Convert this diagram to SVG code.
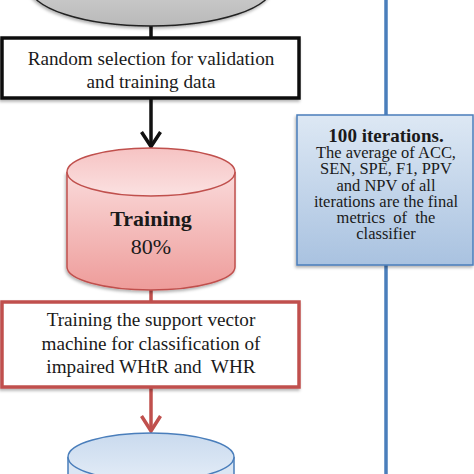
<svg xmlns="http://www.w3.org/2000/svg" width="474" height="474" viewBox="0 0 474 474">
<defs>
<linearGradient id="gGray" x1="0" y1="0" x2="0" y2="1"><stop offset="0" stop-color="#e2e2e2"/><stop offset="1" stop-color="#b9b9b9"/></linearGradient>
<linearGradient id="gRed" x1="0" y1="0" x2="0" y2="1"><stop offset="0" stop-color="#fadada"/><stop offset="1" stop-color="#ee9c9a"/></linearGradient>
<linearGradient id="gRedTop" x1="0" y1="0" x2="0" y2="1"><stop offset="0" stop-color="#f6c3c3"/><stop offset="1" stop-color="#fbe1e1"/></linearGradient>
<linearGradient id="gBlue" x1="0" y1="0" x2="0" y2="1"><stop offset="0" stop-color="#dde8f4"/><stop offset="1" stop-color="#a9c2e0"/></linearGradient>
<linearGradient id="gBlueCyl" x1="0" y1="0" x2="0" y2="1"><stop offset="0" stop-color="#c9daee"/><stop offset="1" stop-color="#e3ecf7"/></linearGradient>
<filter id="sh" x="-10%" y="-10%" width="120%" height="130%"><feDropShadow dx="-1" dy="2" stdDeviation="1.5" flood-color="#000" flood-opacity="0.3"/></filter>
</defs>
<style>
.t{font-family:"Liberation Serif","Times New Roman",serif;fill:#1a1a1a;text-anchor:middle;white-space:pre}
.s19{font-size:19.2px}
.s16{font-size:16px}
.b{font-weight:bold}
.blk{stroke:#111;stroke-width:3.5;fill:none}
.red{stroke:#c0504d;stroke-width:3.5;fill:none}
.blu{stroke:#4a7ebb;stroke-width:3.5;fill:none}
</style>

<g id="connectors">
<line class="blu" x1="386" y1="0" x2="386" y2="474"/>
<line class="blk" x1="151" y1="24" x2="151" y2="38"/>
<line class="blk" x1="151" y1="98" x2="151" y2="146"/>
<polyline class="blk" points="141.5,132 151,146.5 160.5,132"/>
<line class="red" x1="151" y1="288" x2="151" y2="302"/>
<line class="red" x1="151" y1="387" x2="151" y2="431"/>
<polyline class="red" points="141.5,416 151,431 160.5,416"/>
</g>

<g id="start-oval">
<ellipse cx="151" cy="-14" rx="122" ry="40" fill="url(#gGray)" stroke="#222" stroke-width="1.5" filter="url(#sh)"/>
</g>

<g id="random-selection">
<rect x="2" y="38" width="297" height="60" fill="#fff" stroke="#111" stroke-width="3.5" filter="url(#sh)"/>
<text class="t s19" x="151" y="65">Random selection for validation</text>
<text class="t s19" x="151" y="88">and training data</text>
</g>

<g id="training-cylinder">
<path d="M67,172 L67,267 A84,23 0 0 0 235,267 L235,172" fill="url(#gRed)" stroke="#c0504d" stroke-width="1.5" filter="url(#sh)"/>
<ellipse cx="151" cy="172" rx="84" ry="24" fill="url(#gRedTop)" stroke="#c0504d" stroke-width="1.5"/>
<text class="t b" x="151" y="226" font-size="22">Training</text>
<text class="t" x="151" y="254" font-size="22">80%</text>
</g>

<g id="svm-training">
<rect x="2" y="302" width="297" height="85" fill="#fff" stroke="#c0504d" stroke-width="3.5" filter="url(#sh)"/>
<text class="t s19" x="151" y="326">Training the support vector</text>
<text class="t s19" x="151" y="350">machine for classification of</text>
<text class="t s19" x="151" y="373">impaired WHtR and  WHR</text>
</g>

<g id="blue-cylinder">
<path d="M68,457 L68,480 L234,480 L234,457" fill="#dbe6f3" stroke="#4a7ebb" stroke-width="1.5"/>
<ellipse cx="151" cy="457" rx="83" ry="24" fill="url(#gBlueCyl)" stroke="#4a7ebb" stroke-width="1.5"/>
</g>

<g id="iterations">
<rect x="297" y="115" width="176" height="150" fill="url(#gBlue)" stroke="#4a7ebb" stroke-width="1.5" filter="url(#sh)"/>
<g transform="translate(386,0) scale(1.03,1)">
<text class="t b" x="0" y="142" font-size="18.5">100 iterations.</text>
<text class="t s16" x="0" y="158">The average of ACC,</text>
<text class="t s16" x="0" y="174">SEN, SPE, F1, PPV</text>
<text class="t s16" x="0" y="191">and NPV of all</text>
<text class="t s16" x="0" y="207">iterations are the final</text>
<text class="t s16" x="0" y="223">metrics  of  the</text>
<text class="t s16" x="0" y="239">classifier</text>
</g>
</g>
</svg>
